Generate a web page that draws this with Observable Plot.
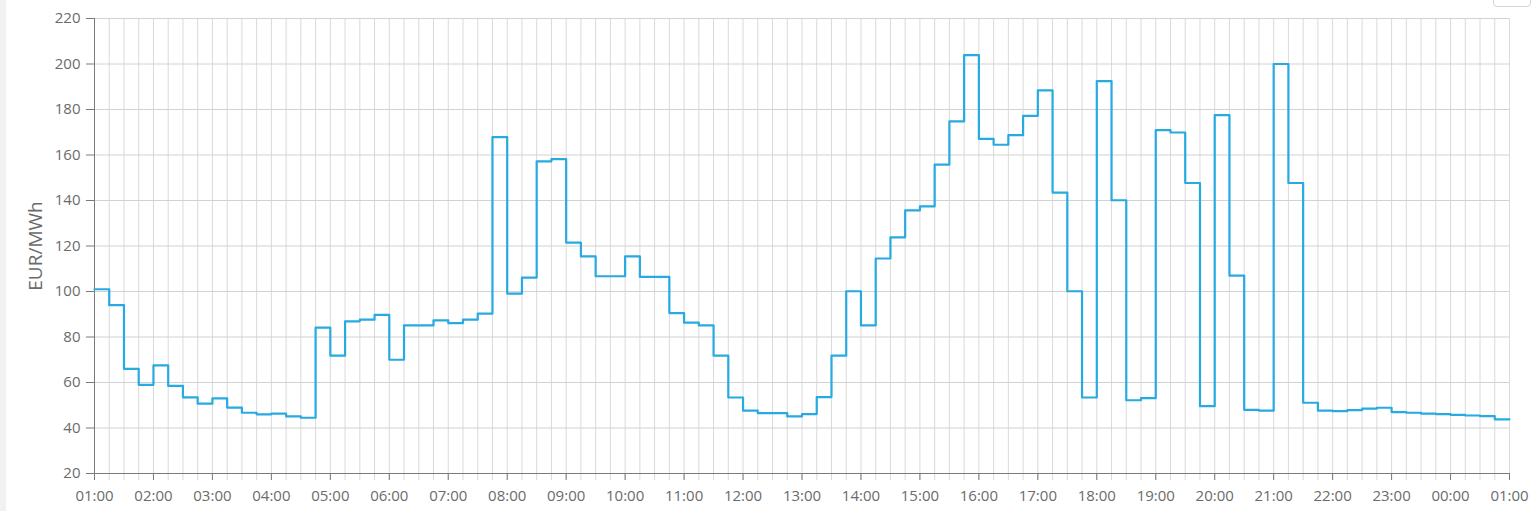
<!DOCTYPE html>
<html>
<head>
<meta charset="utf-8">
<script src="https://cdn.jsdelivr.net/npm/d3@7"></script>
<script src="https://cdn.jsdelivr.net/npm/@observablehq/plot@0.6"></script>
<style>
  html, body { margin: 0; padding: 0; background: #fff; }
  #wrap { position: relative; width: 1537px; height: 511px; overflow: hidden; }
  #strip { position: absolute; left: 0; top: 0; width: 6px; height: 511px; background: #f1f1f1; }
  #btn { position: absolute; left: 1493px; top: -7px; width: 36px; height: 12px; border: 1px solid #d4d4d4; border-radius: 4px; background: #fff; }
  #chart { position: absolute; left: 0; top: 0; }
</style>
</head>
<body>
<div id="wrap">
  <div id="strip"></div>
  <div id="chart"></div>
  <div id="btn"></div>
</div>
<script>
// Quarter-hourly prices (EUR/MWh), 01:00 to 00:45 (next day)
const prices = [
  101, 94, 66, 59, 67.5, 58.5, 53.5, 50.7,
  53, 49, 46.7, 46, 46.3, 45.1, 44.5, 84.1,
  71.8, 86.9, 87.6, 89.7, 70, 85.1, 85.1, 87.3,
  86.1, 87.6, 90.3, 167.9, 99.1, 106.1, 157.2, 158.2,
  121.5, 115.4, 106.7, 106.7, 115.4, 106.4, 106.4, 90.5,
  86.3, 85.1, 71.8, 53.4, 47.6, 46.5, 46.5, 45.1,
  46.1, 53.6, 71.8, 100.1, 85.1, 114.5, 123.8, 135.7,
  137.4, 155.8, 174.8, 203.9, 167.1, 164.5, 168.7, 177.2,
  188.4, 143.5, 100.1, 53.4, 192.5, 140.1, 52.2, 53.1,
  170.9, 169.9, 147.7, 49.6, 177.5, 107, 48, 47.6,
  200, 147.7, 51.1, 47.6, 47.4, 47.9, 48.5, 48.9,
  47, 46.7, 46.3, 46.1, 45.8, 45.5, 45.2, 43.8
];
const hourLabels = [
  "01:00","02:00","03:00","04:00","05:00","06:00","07:00","08:00",
  "09:00","10:00","11:00","12:00","13:00","14:00","15:00","16:00",
  "17:00","18:00","19:00","20:00","21:00","22:00","23:00","00:00","01:00"
];
const yTicks = [20, 40, 60, 80, 100, 120, 140, 160, 180, 200, 220];
const yLabel = "EUR/MWh";

// quarter index positions
const quarterTicks = d3.range(0, prices.length + 1);
const hourTicks = hourLabels.map((_, i) => i * 4);
// step line: add closing point so last step ends at 01:00
const points = prices.map((v, i) => ({t: i, v}));
points.push({t: prices.length, v: prices[prices.length - 1]});

const chart = Plot.plot({
  width: 1537,
  height: 511,
  marginLeft: 94,
  marginRight: 28,
  marginTop: 18,
  marginBottom: 38,
  x: {domain: [0, prices.length]},
  y: {domain: [20, 220]},
  style: {fontFamily: "'Open Sans', sans-serif", fontSize: "15px", color: "#6b6b6b", background: "transparent", overflow: "visible"},
  marks: [
    Plot.gridX({ticks: quarterTicks, stroke: "#dadada", strokeOpacity: 1}),
    Plot.gridY({ticks: yTicks, stroke: "#d2d2d2", strokeOpacity: 1}),
    Plot.axisX({ticks: quarterTicks, tickSize: 7, stroke: "#dadada", strokeOpacity: 1, tickFormat: () => "", label: null}),
    Plot.axisX({ticks: hourTicks, tickSize: 7, tickPadding: 10, stroke: "#7a7a7a", strokeOpacity: 1,
      tickFormat: d => hourLabels[d / 4], fontSize: 15, label: null}),
    Plot.axisY({ticks: yTicks, tickSize: 8, tickPadding: 6, stroke: "#7a7a7a", strokeOpacity: 1, fontSize: 15, label: null}),
    Plot.ruleX([0], {stroke: "#7a7a7a"}),
    Plot.ruleY([20], {stroke: "#7a7a7a"}),
    Plot.lineY(points, {x: "t", y: "v", curve: "step-after", stroke: "#27aae1", strokeWidth: 2.2}),
    Plot.text([yLabel], {frameAnchor: "left", textAnchor: "middle", rotate: -90, dx: -59, fontSize: 19, fill: "#6b6b6b"})
  ]
});
document.getElementById("chart").appendChild(chart);
</script>
</body>
</html>
